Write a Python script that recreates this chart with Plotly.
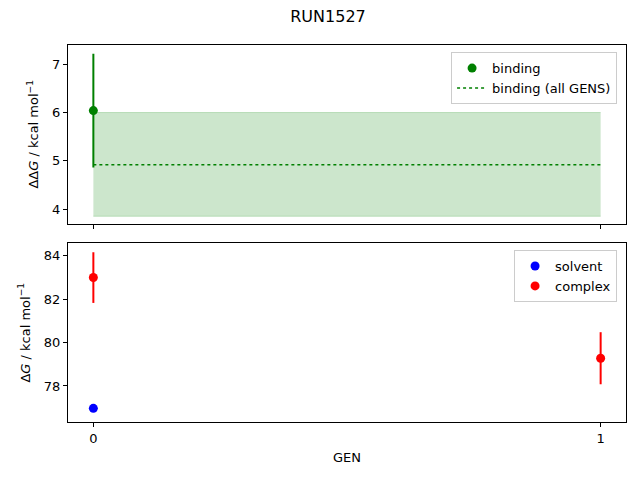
import plotly.graph_objects as go
from plotly.subplots import make_subplots

# x values (GEN)
gens = [0, 1]

# top panel: binding free energy
binding_gen = [0]
binding = [6.04]
binding_err = [1.18]
binding_all = 4.92
binding_all_low = 3.85
binding_all_high = 6.0

# bottom panel: solvent / complex
solvent_gen = [0]
solvent = [76.97]
solvent_err = [0.08]
complex_gen = [0, 1]
complex_vals = [83.0, 79.28]
complex_err = [1.17, 1.2]

fig = make_subplots(rows=2, cols=1, shared_xaxes=True, vertical_spacing=0.053)

# shaded band for all-GENS binding estimate
fig.add_trace(go.Scatter(x=gens, y=[binding_all_low] * len(gens), mode='lines',
                         line=dict(color='rgba(0,128,0,0.2)', width=1),
                         showlegend=False, hoverinfo='skip'), row=1, col=1)
fig.add_trace(go.Scatter(x=gens, y=[binding_all_high] * len(gens), mode='lines',
                         line=dict(color='rgba(0,128,0,0.2)', width=1),
                         fill='tonexty', fillcolor='rgba(0,128,0,0.2)',
                         showlegend=False, hoverinfo='skip'), row=1, col=1)
fig.add_trace(go.Scatter(x=binding_gen, y=binding, mode='markers', name='binding',
                         marker=dict(color='green', size=9),
                         error_y=dict(type='data', array=binding_err, color='green',
                                      thickness=2, width=0),
                         legend='legend'), row=1, col=1)
fig.add_trace(go.Scatter(x=gens, y=[binding_all] * len(gens), mode='lines',
                         name='binding (all GENS)',
                         line=dict(color='green', dash='dot', width=1.5),
                         legend='legend'), row=1, col=1)

fig.add_trace(go.Scatter(x=solvent_gen, y=solvent, mode='markers', name='solvent',
                         marker=dict(color='blue', size=9),
                         error_y=dict(type='data', array=solvent_err, color='blue',
                                      thickness=2, width=0),
                         legend='legend2'), row=2, col=1)
fig.add_trace(go.Scatter(x=complex_gen, y=complex_vals, mode='markers', name='complex',
                         marker=dict(color='red', size=9),
                         error_y=dict(type='data', array=complex_err, color='red',
                                      thickness=2, width=0),
                         legend='legend2'), row=2, col=1)

axis_style = dict(showline=True, linecolor='black', linewidth=1, mirror=True,
                  ticks='outside', ticklen=4, tickcolor='black', showgrid=False,
                  zeroline=False, automargin=False,
                  tickfont=dict(size=13, color='black'))

fig.update_xaxes(**axis_style, range=[-0.05, 1.05], tickvals=[0, 1])
fig.update_xaxes(showticklabels=False, row=1, col=1)
fig.update_xaxes(title=dict(text='GEN', font=dict(size=13, color='black'), standoff=8),
                 row=2, col=1)
fig.update_yaxes(**axis_style)
fig.update_yaxes(range=[3.70, 7.40], tickvals=[4, 5, 6, 7],
                 title=dict(text='ΔΔ<i>G</i> / kcal mol<sup>−1</sup>',
                            font=dict(size=13, color='black'), standoff=10),
                 row=1, col=1)
fig.update_yaxes(range=[76.34, 84.57], tickvals=[78, 80, 82, 84],
                 title=dict(text='Δ<i>G</i> / kcal mol<sup>−1</sup>',
                            font=dict(size=13, color='black'), standoff=10),
                 row=2, col=1)

legend_style = dict(bgcolor='rgba(255,255,255,0.8)', bordercolor='#cccccc', borderwidth=1,
                    font=dict(size=13, color='black'), xanchor='right', yanchor='top',
                    tracegroupgap=0, traceorder='normal', itemwidth=30)
fig.update_layout(
    width=640, height=480,
    template='plotly_white',
    font=dict(family='DejaVu Sans', color='black'),
    title=dict(text='RUN1527', x=0.5, xanchor='center', y=0.983, yanchor='middle',
               font=dict(size=16, color='black')),
    # the page body adds an 8px offset, so margins are shifted to compensate
    margin=dict(l=60, r=22, t=37, b=66),
    plot_bgcolor='white', paper_bgcolor='white',
    legend=dict(x=0.984, y=0.981, **legend_style),
    legend2=dict(x=0.984, y=0.456, **legend_style),
)

fig.write_html("out.html")
